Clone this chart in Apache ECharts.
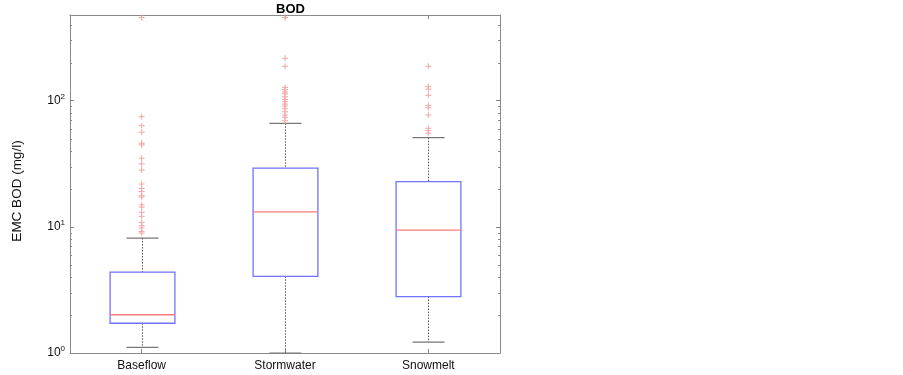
<!DOCTYPE html>
<html>
<head>
<meta charset="utf-8">
<script src="https://cdn.jsdelivr.net/npm/echarts@6/dist/echarts.min.js"></script>
<style>
html,body{margin:0;padding:0;background:#fff;}
#chart{width:903px;height:375px;}
</style>
</head>
<body>
<div id="chart"></div>
<script>
// ---- data ----
const categories = ['Baseflow', 'Stormwater', 'Snowmelt'];
// [lowerWhisker, Q1, median, Q3, upperWhisker]
const baseflowBox   = [1.11, 1.72, 2.01, 4.38, 8.14];
const stormwaterBox = [1.0, 4.05, 13.1, 29.1, 66.0];
const snowmeltBox   = [1.22, 2.80, 9.42, 22.8, 50.8];
const baseflowOutliers = [455, 74.5, 63.2, 56.1, 45.9, 44.5, 34.9, 31.5, 28.1, 21.8, 20.1, 19.0, 17.6, 17.2, 14.9, 14.3, 13.0, 12.1, 10.8, 10.2, 9.77, 9.18, 8.91];
const stormwaterOutliers = [455, 216, 187, 127, 122, 117, 113, 107, 102, 97.9, 93.8, 90.5, 86.2, 81.5, 76.7, 73.6, 69.2];
const snowmeltOutliers = [187, 129, 123, 110, 91.6, 87.7, 76.8, 60.3, 57.7, 55.1];
const yMin = 1;
const yMax = 476;
const minorTicks = [2,3,4,5,6,7,8,9,20,30,40,50,60,70,80,90,200,300,400];
const titleText = 'BOD';
const yAxisName = 'EMC BOD (mg/l)';

// ---- build ----
const boxes = [baseflowBox, stormwaterBox, snowmeltBox];
const boxData = boxes.map((b, i) => [i].concat(b));
const outlierSets = [baseflowOutliers, stormwaterOutliers, snowmeltOutliers];
const outlierData = [];
outlierSets.forEach((arr, i) => arr.forEach(v => outlierData.push([i, v])));

const axisColor = '#8a8a8a';
const FONT = 'Liberation Sans, Arial, sans-serif';

function renderBox(params, api) {
  const idx = api.value(0);
  const lo = api.value(1), q1 = api.value(2), med = api.value(3), q3 = api.value(4), hi = api.value(5);
  const bandW = api.size([1, 0])[0];
  const boxHalf = bandW * 0.226;
  const capHalf = bandW * 0.112;
  const pLo = api.coord([idx, lo]);
  const pQ1 = api.coord([idx, q1]);
  const pMed = api.coord([idx, med]);
  const pQ3 = api.coord([idx, q3]);
  const pHi = api.coord([idx, hi]);
  const x = Math.round(pMed[0]) + 0.5;
  const children = [];
  const dash = { stroke: '#555', lineWidth: 1, lineDash: [1.5, 1.5] };
  children.push({ type: 'line', shape: { x1: x, y1: pHi[1], x2: x, y2: pQ3[1] }, style: dash });
  children.push({ type: 'line', shape: { x1: x, y1: pQ1[1], x2: x, y2: pLo[1] }, style: dash });
  children.push({ type: 'line', shape: { x1: x - capHalf, y1: pHi[1], x2: x + capHalf, y2: pHi[1] }, style: { stroke: '#777', lineWidth: 1.2 } });
  children.push({ type: 'line', shape: { x1: x - capHalf, y1: pLo[1], x2: x + capHalf, y2: pLo[1] }, style: { stroke: '#777', lineWidth: 1.2 } });
  children.push({ type: 'rect', shape: { x: x - boxHalf, y: pQ3[1], width: boxHalf * 2, height: pQ1[1] - pQ3[1] }, style: { fill: 'rgba(0,0,0,0)', stroke: '#7272ff', lineWidth: 1.3 } });
  children.push({ type: 'line', shape: { x1: x - boxHalf, y1: pMed[1], x2: x + boxHalf, y2: pMed[1] }, style: { stroke: '#ff7a7a', lineWidth: 1.3 } });
  return { type: 'group', children: children };
}

function renderPlus(params, api) {
  const p = api.coord([api.value(0), api.value(1)]);
  const s = 3;
  const st = { stroke: '#f2a6a6', lineWidth: 1 };
  return { type: 'group', children: [
    { type: 'line', shape: { x1: p[0] - s, y1: p[1], x2: p[0] + s, y2: p[1] }, style: st },
    { type: 'line', shape: { x1: p[0], y1: p[1] - s, x2: p[0], y2: p[1] + s }, style: st }
  ]};
}

function renderMinor(params, api) {
  const cs = params.coordSys;
  const p = api.coord([0, api.value(0)]);
  const y = Math.round(p[1]) + 0.5;
  const st = { stroke: axisColor, lineWidth: 1 };
  return { type: 'group', children: [
    { type: 'line', shape: { x1: cs.x, y1: y, x2: cs.x + 2, y2: y }, style: st },
    { type: 'line', shape: { x1: cs.x + cs.width - 2, y1: y, x2: cs.x + cs.width, y2: y }, style: st }
  ]};
}

const chart = echarts.init(document.getElementById('chart'), null, { renderer: 'canvas' });
const logAxisBase = {
  type: 'log', logBase: 10, min: yMin, max: yMax,
  axisLine: { show: true, lineStyle: { color: axisColor, width: 1 } },
  axisTick: { show: true, inside: true, length: 4, lineStyle: { color: axisColor } },
  splitLine: { show: false }
};
chart.setOption({
  animation: false,
  backgroundColor: '#fff',
  title: {
    text: titleText, left: 271, top: -2,
    textStyle: { fontFamily: FONT, fontSize: 13, fontWeight: 'bold', color: '#000' }
  },
  graphic: [{
    type: 'text', x: 17, y: 191, rotation: Math.PI / 2,
    style: { text: yAxisName, font: '13.5px ' + FONT, fill: '#111', align: 'center', verticalAlign: 'middle' }
  }],
  grid: { left: 70, right: 403, top: 15, bottom: 22 },
  xAxis: [
    {
      type: 'category', data: categories, position: 'bottom',
      axisLine: { show: true, lineStyle: { color: axisColor } },
      axisTick: { show: true, inside: true, length: 4, alignWithLabel: true, lineStyle: { color: axisColor } },
      axisLabel: { margin: 7, color: '#111', fontFamily: FONT, fontSize: 12 }
    },
    {
      type: 'category', data: categories, position: 'top',
      axisLine: { show: true, lineStyle: { color: axisColor } },
      axisTick: { show: true, inside: true, length: 4, alignWithLabel: true, lineStyle: { color: axisColor } },
      axisLabel: { show: false }
    }
  ],
  yAxis: [
    Object.assign({}, logAxisBase, {
      position: 'left',
      axisLabel: {
        margin: 5,
        formatter: function (v) {
          const l = Math.log10(v);
          const e = Math.round(l);
          if (Math.abs(l - e) > 1e-6) return '';
          return '{b|10}{s|' + e + '}';
        },
        rich: {
          b: { fontFamily: FONT, fontSize: 12, color: '#111' },
          s: { fontFamily: FONT, fontSize: 8, color: '#111', padding: [0, 0, 8, 0] }
        }
      }
    }),
    Object.assign({}, logAxisBase, {
      position: 'right',
      axisLabel: { show: false }
    })
  ],
  series: [
    { type: 'custom', name: 'minor', xAxisIndex: 0, yAxisIndex: 0, data: minorTicks.map(v => [v]), encode: { y: 0 }, renderItem: renderMinor, silent: true, clip: false },
    { type: 'custom', name: 'box', xAxisIndex: 0, yAxisIndex: 0, data: boxData, encode: { x: 0, y: [1, 2, 3, 4, 5] }, renderItem: renderBox, clip: false },
    { type: 'custom', name: 'outliers', xAxisIndex: 0, yAxisIndex: 0, data: outlierData, encode: { x: 0, y: 1 }, renderItem: renderPlus, clip: false }
  ]
});
</script>
</body>
</html>
